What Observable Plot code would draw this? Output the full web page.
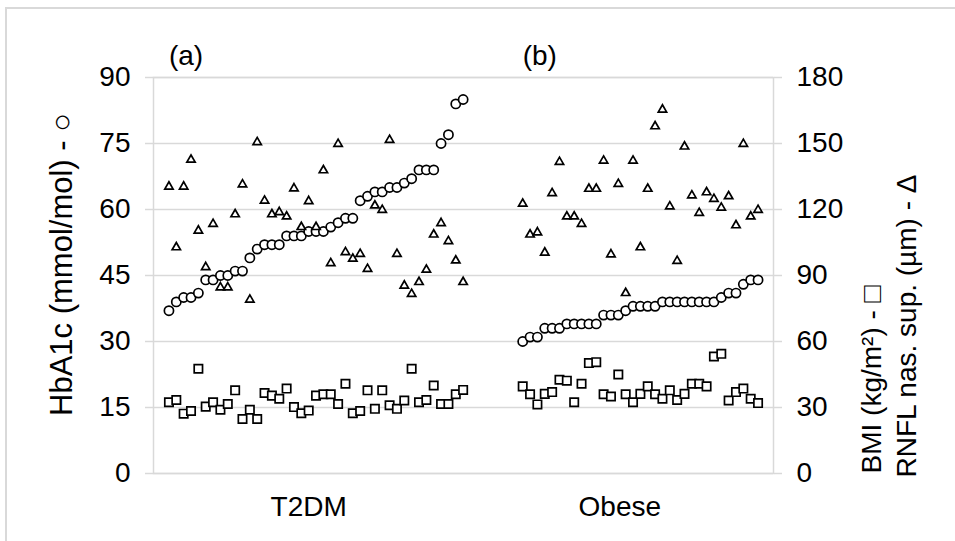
<!DOCTYPE html>
<html><head><meta charset="utf-8">
<script src="https://cdn.jsdelivr.net/npm/d3@7"></script>
<script src="https://cdn.jsdelivr.net/npm/@observablehq/plot@0.6"></script>
<style>
body{margin:0;background:#fff;}
#wrap{position:relative;width:955px;height:541px;overflow:hidden;background:#fff;}
#border{position:absolute;left:5px;top:7px;width:1000px;height:600px;border:2px solid #d9d9d9;box-sizing:border-box;}
#chart{position:absolute;left:0;top:0;}
</style></head><body>
<div id="wrap"><div id="border"></div><div id="chart"></div></div>
<script>
// ---- data ----
const groups = ["T2DM", "Obese"];
const panelLabels = ["(a)", "(b)"];
const leftTicks = [0, 15, 30, 45, 60, 75, 90];
const leftTitle = "HbA1c (mmol/mol) - ○";
const rightTitle1 = "BMI (kg/m²) - □";
const rightTitle2 = "RNFL nas. sup. (µm) - Δ";

// HbA1c (mmol/mol), left axis
const t2dmHbA1c = [37,39,40,40,41,44,44,45,45,46,46,49,51,52,52,52,54,54,54,55,55,55,56,57,58,58,62,63,64,64,65,65,66,67,69,69,69,75,77,84,85];
const obeseHbA1c = [30,31,31,33,33,33,34,34,34,34,34,36,36,36,37,38,38,38,38,39,39,39,39,39,39,39,39,40,41,41,43,44,44];
// BMI (kg/m2), right axis
const t2dmBMI = [32.4,33.4,27.2,28.4,47.6,30.4,32.4,29.0,31.6,37.8,24.8,29.0,24.8,36.6,35.4,34.0,38.6,30.2,27.4,28.6,35.4,36.0,36.0,31.6,40.8,27.4,28.4,37.8,29.4,37.8,31.0,29.4,33.2,47.6,32.4,33.4,40.0,31.6,31.6,36.0,38.0];
const obeseBMI = [39.6,36.0,31.4,36.2,37.0,42.6,42.2,32.4,40.8,50.2,50.6,36.0,35.0,45.0,36.0,32.4,36.2,39.6,36.0,34.0,37.8,33.4,36.2,40.8,40.8,39.6,53.2,54.4,33.2,37.0,38.6,34.0,32.0];
// RNFL nasal superior (µm), right axis
const t2dmRNFL = [130.4,102.8,130.4,142.6,110.4,93.8,113.4,84.6,84.6,117.8,131.4,79.0,150.6,124.0,117.8,118.8,116.8,129.6,112.0,123.8,112.0,137.8,95.6,149.8,100.6,97.6,99.8,93.0,121.8,119.8,151.6,99.8,85.4,81.6,87.0,92.6,108.6,113.8,105.6,96.8,87.0];
const obeseRNFL = [122.6,108.6,109.6,100.4,127.4,141.6,116.8,116.8,113.4,129.4,129.4,142.2,99.6,131.6,82.0,142.2,102.8,129.4,157.8,165.4,121.4,96.6,148.6,126.4,118.4,127.8,124.8,120.8,126.0,112.8,149.8,116.8,119.8];

// ---- layout helpers (subject index along a shared x axis) ----
const xDomain = [0, 84.3];
const groupStart = {T2DM: 2.1, Obese: 50.2};
const groupCenter = {T2DM: 21.1, Obese: 63.4};
const rightFactor = 2; // right axis = 2 × left axis

function rows(group, hb, bmi, rnfl) {
  return hb.map((h, i) => ({group, x: groupStart[group] + i, hb: h, bmi: bmi[i], rnfl: rnfl[i]}));
}
const data = [...rows("T2DM", t2dmHbA1c, t2dmBMI, t2dmRNFL), ...rows("Obese", obeseHbA1c, obeseBMI, obeseRNFL)];

const FONT = "'Liberation Sans', Arial, Helvetica, sans-serif";
const GRID = "#d9d9d9";
const INK = "#000";

const chart = Plot.plot({
  width: 955, height: 541,
  marginLeft: 153, marginRight: 182, marginTop: 77, marginBottom: 68,
  style: {fontFamily: FONT, fontSize: "28px", color: INK, background: "transparent", overflow: "visible"},
  x: {domain: xDomain, axis: null},
  y: {domain: [0, 90], axis: null},
  marks: [
    Plot.gridY(leftTicks, {stroke: GRID, strokeOpacity: 1, strokeWidth: 1.5}),
    Plot.frame({stroke: GRID, strokeWidth: 1.5}),
    Plot.axisY(leftTicks, {anchor: "left", tickSize: 8, tickPadding: 15, stroke: GRID, strokeWidth: 1.5, fill: INK, fontSize: 28, label: null}),
    Plot.axisY(leftTicks, {anchor: "right", tickSize: 8, tickPadding: 15, stroke: GRID, strokeWidth: 1.5, fill: INK, fontSize: 28, label: null, tickFormat: d => String(d * rightFactor)}),
    Plot.dot(data, {x: "x", y: "hb", symbol: "circle", r: 4.6, stroke: INK, strokeWidth: 1.7, fill: "#fff"}),
    Plot.dot(data, {x: "x", y: d => d.bmi / rightFactor, symbol: "square", r: 4.7, stroke: INK, strokeWidth: 1.7, fill: "#fff"}),
    Plot.dot(data, {x: "x", y: d => d.rnfl / rightFactor, symbol: "triangle", r: 3.1, stroke: INK, strokeWidth: 1.7, fill: "#fff"}),
    Plot.text(groups, {x: d => groupCenter[d], text: d => d, frameAnchor: "bottom", dy: 42, fontSize: 28, fill: INK}),
    Plot.text(groups, {x: d => groupStart[d], text: (d, i) => panelLabels[i], frameAnchor: "top", dy: -32, dx: 0, textAnchor: "start", fontSize: 28, fill: INK}),
    Plot.text([leftTitle], {frameAnchor: "left", dx: -91, dy: -11, rotate: -90, textAnchor: "middle", fontSize: 31, fill: INK}),
    Plot.text([rightTitle1], {frameAnchor: "bottom-right", dx: 107, dy: 0, rotate: -90, textAnchor: "start", fontSize: 28, fill: INK}),
    Plot.text([rightTitle2], {frameAnchor: "bottom-right", dx: 142, dy: 4, rotate: -90, textAnchor: "start", fontSize: 28, fill: INK})
  ]
});
document.getElementById("chart").appendChild(chart);
</script>
</body></html>
